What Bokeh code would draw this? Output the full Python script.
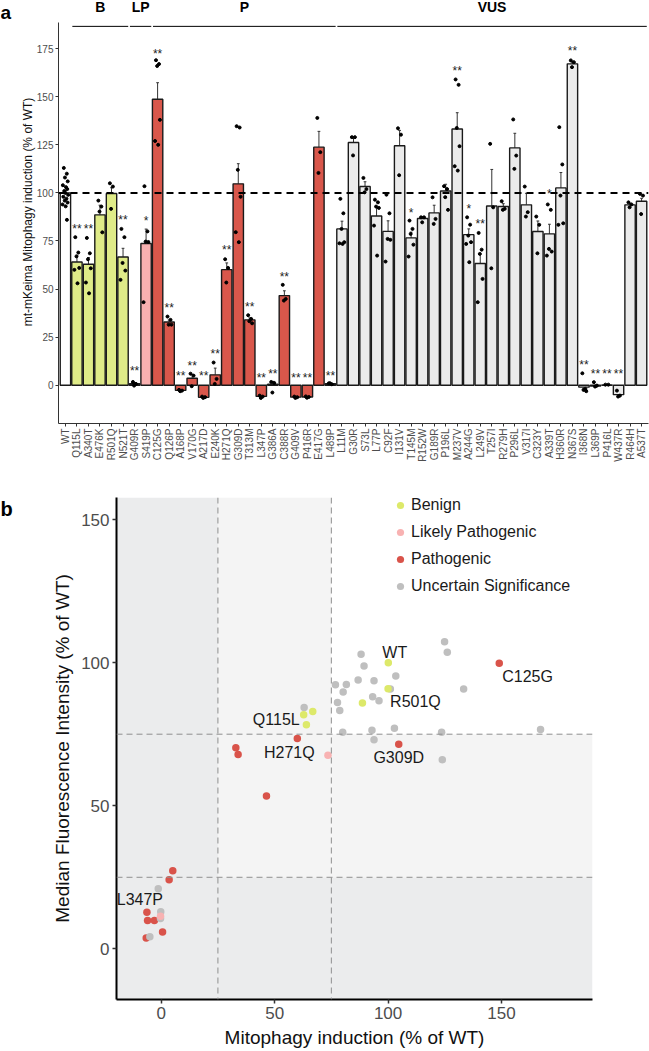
import numpy as np
from bokeh.plotting import figure
from bokeh.models import (Range1d, FixedTicker, Span, Legend, LegendItem,
                          ColumnDataSource)
from bokeh.layouts import column, row
from bokeh.embed import file_html
from bokeh.resources import INLINE
from bokeh.core.properties import value

FONT = "Liberation Sans"

# ---------------- Panel a data ----------------
variants = ["WT", "Q115L", "A340T", "E476K", "R501Q", "N521T", "G409R", "S419P",
            "C125G", "Q126P", "A168P", "V170G", "A217D", "E240K", "H271Q", "G309D",
            "T313M", "L347P", "G386A", "C388R", "G409V", "P416R", "E417G", "L489P",
            "L11M", "G30R", "S73L", "L77P", "C92F", "I131V", "T145M", "R152W",
            "G189R", "P196L", "M237V", "A244G", "L249V", "T257I", "R279H", "P296L",
            "V317I", "C323Y", "A339T", "H360R", "N367S", "I368N", "L369P", "P416L",
            "W437R", "R464H", "A537T"]
variant_class = (["WT"] + ["B"] * 5 + ["LP"] * 2 + ["P"] * 16 + ["VUS"] * 27)
mean_pct = [100, 64.1, 62.9, 88.6, 99.7, 66.7, 0.8, 73.7,
            148.7, 32.9, -2.7, 3.6, -6.3, 5.4, 60.1, 104.7,
            34.0, -5.8, 0.5, 46.6, -6.2, -6.1, 123.8, 0.8,
            81.3, 126.2, 103.3, 88.0, 80.0, 124.5, 76.6, 86.7,
            89.6, 101.0, 133.2, 78.3, 63.3, 93.2, 92.9, 123.4,
            93.8, 79.9, 78.7, 102.6, 167.1, -1.0, -0.4, 0.2,
            -4.9, 93.8, 95.7]
se_pct = [1.2, 3.5, 3.5, 5.0, 3.0, 4.5, 0.5, 7.5,
          8.6, 1.0, 0.3, 2.0, 0.3, 3.5, 3.5, 10.5,
          1.0, 0.4, 1.5, 2.5, 0.3, 0.3, 8.2, 0.2,
          4.0, 3.0, 2.5, 4.5, 5.5, 8.0, 3.0, 1.0,
          4.0, 3.5, 8.5, 3.0, 5.0, 19.0, 1.5, 7.6,
          6.0, 5.5, 5.0, 8.0, 0.8, 2.0, 0.6, 0.2,
          1.0, 0.8, 1.5]
replicates = [
    [113, 110, 108, 106, 104, 103, 102, 101, 100, 99, 98, 97, 96, 95, 94, 93, 86],
    [77, 69, 67, 61, 60, 53],
    [76.6, 68.6, 65.5, 60.8, 53.4, 47.8],
    [96, 92.9, 90.3, 79.5],
    [105, 103.3, 91.7],
    [81.3, 77, 63.6, 59.6, 54.8],
    [1.7, 0.7, -0.2],
    [103.5, 80, 74.7, 74.5, 43.2],
    [169, 167, 166, 138, 127, 125],
    [35.7, 34, 31.5, 31.5],
    [-2.4, -2.8, -3.1],
    [6, 5, -0.5],
    [-5.9, -6.2, -6.6],
    [11.8, 3.3, 0.7],
    [65.5, 61, 53.4],
    [134.7, 134, 112, 98, 79.6, 74.4],
    [36.4, 34.5, 33.3, 32.2],
    [-5.4, -5.9, -6.6],
    [1.7, 1.2, -3.8],
    [52.2, 44.9, 44],
    [-5.9, -6.2, -6.6],
    [-5.8, -6.1, -6.5],
    [139, 121.2, 110.4],
    [1, 0.5, 1],
    [96.9, 89.4, 81.3, 74.4, 73.8, 73.5],
    [129, 129, 119.5],
    [107.8, 102, 100.3],
    [96.5, 95.1, 92.9, 92.2, 83, 67.4],
    [99.1, 89.4, 76.1, 75.6, 64.3],
    [133.6, 130.3, 109.2],
    [85.6, 81.3, 78.7, 73.1, 66.9],
    [87.3, 87.3, 84.7],
    [97.7, 86.5, 83.9],
    [103.5, 102, 97.8, 91.2],
    [159, 156.2, 133.8, 124.3, 113.9, 111.6],
    [87.3, 83.5, 77.8, 74.4, 73.5, 64],
    [79.2, 70.5, 68.3, 55.3, 43.2],
    [125.5, 92.5, 60.8],
    [95.7, 91.7, 91.2],
    [138.2, 119.4, 112.5],
    [103.3, 90, 87.7],
    [87.7, 83.4, 68.6],
    [94, 91.2, 70.9, 69.5, 67.4],
    [134.2, 114.8, 98.6, 84.2, 83.4],
    [168.9, 168, 165.4],
    [6.2, -1.9, -2.4, -3.1],
    [1.6, -0.2, -0.7],
    [0.3, 0.3],
    [-2.8, -5.4, -5.9],
    [95.1, 94, 92.5],
    [99.5, 98.6, 89],
]
sig_label = ["", "**", "**", "", "", "**", "**", "*",
             "**", "**", "**", "**", "**", "**", "**", "",
             "**", "**", "**", "**", "**", "**", "", "**",
             "", "", "", "", "", "", "*", "",
             "", "", "**", "*", "**", "", "", "",
             "", "", "*", "", "**", "**", "**", "**",
             "**", "", ""]
nan = float("nan")
sig_y = [nan, 83, 83, nan, nan, 87.7, 8.8, 87,
         173.7, 41.8, 6.2, 11.4, 6.2, 18, 71.8, nan,
         42.3, 5.5, 7.6, 57.9, 5.5, 5.5, nan, 6.2,
         nan, nan, nan, nan, nan, nan, 91.2, nan,
         nan, nan, 165, 93.4, 85.3, nan, nan, nan,
         nan, nan, 101.2, nan, 175.2, 12, 7.3, 7.3,
         7.3, nan, nan]
groups = ["B", "LP", "P", "VUS"]
group_first = ["Q115L", "G409R", "C125G", "L11M"]
group_last = ["N521T", "S419P", "L489P", "A537T"]

# ---------------- Panel b data ----------------
b_mito = [100.1, 62.8, 66.8, 64.0, 100.0, 88.7,
          73.5, -0.3,
          149.0, 32.9, 33.9, 60.0, 104.7, 46.4, 5.1, 3.5, -6.3, -6.0, -3.0, 0.6, -6.6,
          63.0, 124.9, 126.1, 88.1, 89.4, 103.4, 76.8, 81.6, 86.8, 93.8, 80.2, 101.0,
          133.3, 77.7, 93.2, 96.0, 78.7, 80.0, 92.9, 102.8, 123.6, 167.2, 93.8, 123.9,
          -1.3, -0.2, -0.3, -5.0]
b_mfi = [100.0, 81.8, 82.9, 78.3, 90.9, 85.9,
         67.6, 11.4,
         99.8, 70.3, 67.9, 73.5, 71.5, 53.4, 27.3, 24.1, 12.8, 9.9, 9.9, 5.9, 3.8,
         84.3, 107.3, 103.6, 102.9, 98.8, 95.3, 92.3, 92.4, 93.9, 93.7, 89.7, 90.8,
         90.8, 86.1, 88.1, 86.7, 83.3, 75.7, 76.4, 77.1, 75.7, 76.6, 73.1, 66.1,
         21.0, 13.0, 10.6, 4.2]
b_class = (["Benign"] * 6 + ["Likely Pathogenic"] * 2 + ["Pathogenic"] * 13
           + ["Uncertain Significance"] * 28)
b_name = ["WT", "Q115L", "", "", "R501Q", "",
          "", "",
          "C125G", "", "", "H271Q", "G309D", "", "", "", "L347P", "", "", "", "",
          ] + [""] * 28
legend_order = ["Benign", "Likely Pathogenic", "Pathogenic", "Uncertain Significance"]

# ---------------- styles ----------------
bar_fill = {"WT": "#ffffff", "B": "#dfeb88", "LP": "#f8b0b0", "P": "#d9574b", "VUS": "#ebebeb"}
pt_color = {"Benign": "#dde96a", "Likely Pathogenic": "#f8b2b2",
            "Pathogenic": "#d9534a", "Uncertain Significance": "#bfbfbf"}
draw_order = ["Pathogenic", "Uncertain Significance", "Likely Pathogenic", "Benign"]
label_style = {  # align, x_offset, y_offset (px, down positive), baseline middle
    "WT": ("left", -6, -10), "R501Q": ("left", 2, 13), "Q115L": ("right", -4, 5),
    "H271Q": ("center", -8, 14), "G309D": ("center", 0, 13),
    "C125G": ("left", 3, 13), "L347P": ("center", -7, -13),
}


def blank_fig(w, h):
    f = figure(width=w, height=h, x_range=Range1d(0, w), y_range=Range1d(0, h),
               output_backend="svg", toolbar_location=None, frame_align=False,
               x_axis_type=None, y_axis_type=None,
               min_border_left=0, min_border_right=0, min_border_top=0, min_border_bottom=0)
    f.outline_line_color = None
    f.xgrid.visible = False
    f.ygrid.visible = False
    return f


# ================= Panel a =================
idx = np.arange(len(variants))
p1 = figure(width=635, height=470, x_range=Range1d(-0.6, 50.6), y_range=Range1d(-19.9, 200.05),
            output_backend="svg", toolbar_location=None, frame_align=False,
            min_border_left=44, min_border_right=1, min_border_top=0, min_border_bottom=47)
p1.outline_line_color = None
p1.xgrid.visible = False
p1.ygrid.visible = False

p1.add_layout(Span(location=100, dimension="width", line_color="black",
                   line_width=2, line_dash="7 5"))

src_a = ColumnDataSource(dict(
    x=idx, top=mean_pct, fill=[bar_fill[c] for c in variant_class],
    err_top=[m + (s if m >= 0 else -s) for m, s in zip(mean_pct, se_pct)],
))
p1.segment(x0="x", y0="top", x1="x", y1="err_top", source=src_a, line_color="#333333", line_width=1)
p1.segment(x0=idx - 0.12, y0=src_a.data["err_top"], x1=idx + 0.12, y1=src_a.data["err_top"],
           line_color="#333333", line_width=1)
p1.vbar(x="x", top="top", bottom=0, width=0.9, fill_color="fill", line_color="#1a1a1a",
        line_width=1.4, source=src_a)

jit = [-0.14, 0.12, -0.04, 0.2, -0.22, 0.05, 0.16, -0.1, 0.0, 0.24, -0.18, 0.09, -0.06, 0.19, -0.25, 0.02, 0.13]
dx, dy = [], []
for i, reps in enumerate(replicates):
    for k, v in enumerate(reps):
        dx.append(i + jit[k % len(jit)])
        dy.append(v)
p1.scatter(dx, dy, size=3, color="black")

p1.text(x=idx, y=sig_y, text=sig_label, text_align="center", text_baseline="middle",
        text_font=value(FONT), text_font_size="12px", text_color="#222222", y_offset=3)

# group headers
gx0 = [variants.index(v) - 0.4 for v in group_first]
gx1 = [variants.index(v) + 0.45 for v in group_last]
p1.segment(x0=gx0, y0=186.6, x1=gx1, y1=186.6, line_color="black", line_width=1)
p1.text(x=[(a + b) / 2 for a, b in zip(gx0, gx1)], y=196.5, text=groups,
        text_align="center", text_baseline="middle", text_font=value(FONT),
        text_font_size="14px", text_font_style="bold", text_color="black")

p1.xaxis.ticker = FixedTicker(ticks=list(range(len(variants))))
p1.xaxis.major_label_overrides = {i: v for i, v in enumerate(variants)}
p1.xaxis.major_label_orientation = np.pi / 2
p1.yaxis.ticker = FixedTicker(ticks=[0, 25, 50, 75, 100, 125, 150, 175])
p1.yaxis.bounds = (-19.9, 188.5)
p1.yaxis.axis_label = "mt-mKeima Mitophagy induction (% of WT)"
for ax in (p1.xaxis, p1.yaxis):
    ax.axis_line_color = "#333333"
    ax.axis_line_width = 1
    ax.major_tick_line_color = "#333333"
    ax.major_tick_out = 3
    ax.major_tick_in = 0
    ax.minor_tick_line_color = None
    ax.major_label_text_font = FONT
    ax.major_label_text_font_size = "10px"
    ax.major_label_text_color = "#4d4d4d"
    ax.major_label_standoff = 2
    ax.axis_label_text_font = FONT
    ax.axis_label_text_font_size = "12px"
    ax.axis_label_text_font_style = "normal"
    ax.axis_label_text_color = "#111111"
p1.yaxis.axis_label_standoff = -1

lbl_a = blank_fig(14, 470)
lbl_a.text(x=[0], y=[458], text=["a"], text_align="left", text_baseline="middle",
           text_font=value(FONT), text_font_size="19px", text_font_style="bold",
           text_color="black")

# ================= Panel b =================
XLO, XHI, YLO, YHI = -19.7, 190.1, -17.7, 157.7
p2 = figure(width=635, height=581, x_range=Range1d(XLO, XHI), y_range=Range1d(YLO, YHI),
            output_backend="svg", toolbar_location=None, frame_align=False,
            min_border_left=102, min_border_right=57, min_border_top=27, min_border_bottom=52)
p2.outline_line_color = None
p2.xgrid.visible = False
p2.ygrid.visible = False

dark, light = "#ebeced", "#f4f4f4"
p2.quad(left=[XLO, 25], right=[25, XHI], bottom=[YLO, YLO], top=[YHI, 25],
        fill_color=dark, line_color=None)
p2.quad(left=[25, 75], right=[75, XHI], bottom=[25, 25], top=[YHI, 75],
        fill_color=light, line_color=None)
for loc, dim in [(25, "height"), (75, "height"), (25, "width"), (75, "width")]:
    p2.add_layout(Span(location=loc, dimension=dim, line_color="#8f8f8f",
                       line_width=1, line_dash="6 4"))

renderers = {}
for cls in draw_order:
    xs = [x for x, c in zip(b_mito, b_class) if c == cls]
    ys = [y for y, c in zip(b_mfi, b_class) if c == cls]
    renderers[cls] = p2.scatter(xs, ys, size=7.5, fill_color=pt_color[cls], line_color=None)

for name, x, y in zip(b_name, b_mito, b_mfi):
    if name:
        al, xo, yo = label_style[name]
        p2.text(x=[x], y=[y], text=[name], text_align=al, text_baseline="middle",
                x_offset=xo, y_offset=yo, text_font=value(FONT), text_font_size="16px",
                text_color="#1a1a1a")

legend = Legend(items=[LegendItem(label=c, renderers=[renderers[c]]) for c in legend_order],
                location=(275, 403), orientation="vertical", padding=0, margin=0,
                spacing=7, glyph_width=18, glyph_height=20, label_height=20,
                label_standoff=2, border_line_color=None, background_fill_alpha=0,
                label_text_font=FONT, label_text_font_size="16px", label_text_color="#1a1a1a")
p2.add_layout(legend)

p2.xaxis.ticker = FixedTicker(ticks=[0, 50, 100, 150])
p2.yaxis.ticker = FixedTicker(ticks=[0, 50, 100, 150])
p2.xaxis.axis_label = "Mitophagy induction (% of WT)"
p2.yaxis.axis_label = "Median Fluorescence Intensity (% of WT)"
for ax in (p2.xaxis, p2.yaxis):
    ax.axis_line_color = "black"
    ax.axis_line_width = 2
    ax.major_tick_line_color = "#333333"
    ax.major_tick_line_width = 1.5
    ax.major_tick_out = 4
    ax.major_tick_in = 0
    ax.minor_tick_line_color = None
    ax.major_label_text_font = FONT
    ax.major_label_text_font_size = "17px"
    ax.major_label_text_color = "#4d4d4d"
    ax.major_label_standoff = 3
    ax.axis_label_text_font = FONT
    ax.axis_label_text_font_size = "19px"
    ax.axis_label_text_font_style = "normal"
    ax.axis_label_text_color = "#111111"
    ax.axis_label_standoff = 5

lbl_b = blank_fig(14, 581)
lbl_b.text(x=[0], y=[543], text=["b"], text_align="left", text_baseline="middle",
           text_font=value(FONT), text_font_size="20px", text_font_style="bold",
           text_color="black")

layout = column(row(lbl_a, p1, spacing=0), row(lbl_b, p2, spacing=0), spacing=0)
open("out.html", "w").write(file_html(layout, INLINE))
